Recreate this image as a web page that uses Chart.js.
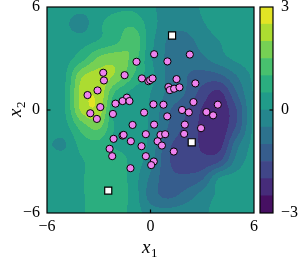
<!DOCTYPE html>
<html>
<head>
<meta charset="utf-8">
<script src="https://cdn.jsdelivr.net/npm/chart.js@4.4.0/dist/chart.umd.min.js"></script>
<style>
  html, body { margin: 0; padding: 0; background: #fff; }
  #wrap { position: relative; width: 304px; height: 259px; }
  #wrap canvas { position: absolute; left: 0; top: 0; }
</style>
</head>
<body>
<div id="wrap">
  <canvas id="chart-main" width="304" height="259"></canvas>
  <canvas id="chart-bar" width="304" height="259"></canvas>
</div>
<script>
// data

var xTicks = [-6, 0, 6];
var yTicks = [-6, 0, 6];
var barTicks = [-3, 0, 3];

// contour levels and the viridis colour of each band
var levels = [-3, -2.5, -2, -1.5, -1, -0.5, 0, 0.5, 1, 1.5, 2, 2.5, 3];
var bandColors = ["#461062", "#462c7a", "#404688", "#365d8d", "#2d728e", "#25868d",
                  "#219b89", "#2bae7f", "#48c06e", "#76d054", "#acdc31", "#e2e425"];

// field, one row per grid y (top to bottom)
var gridX = [-6, -5, -4, -3, -2, -1, 0, 1, 2, 3, 4, 5, 6];
var gridY = [6, 5, 4, 3, 2, 1, 0, -1, -2, -3, -4, -5, -6];
var fieldZ = [
  [0.25, 0.25, 0.15, 0.3, 0.4, 0.4, 0.1, -0.2, -0.2, 0.05, 0.25, 0.25, 0.25],
  [0.25, 0.1, -0.2, 0.4, 0.75, 0.9, 0.25, -0.3, -0.35, -0.05, 0.2, 0.25, 0.25],
  [0.25, 0.25, 0.3, 0.55, 0.9, 1.4, 0.2, -0.55, -0.7, -0.3, 0.0, 0.2, 0.25],
  [0.25, 0.3, 0.8, 1.6, 1.8, 1.3, 0.1, -0.6, -0.85, -0.6, -0.2, 0.1, 0.25],
  [0.25, 0.4, 1.9, 2.2, 1.9, 1.0, 0.2, -0.6, -0.95, -1.2, -1.1, -0.5, 0.1],
  [0.25, 0.45, 2.2, 2.35, 0.9, 0.35, 0.0, -0.6, -1.0, -1.7, -2.1, -1.0, 0.05],
  [0.25, 0.45, 2.1, 2.3, 0.3, 0.3, -0.05, -0.9, -1.4, -2.05, -2.35, -1.5, 0.1],
  [0.25, 0.3, 1.2, 1.6, 0.4, 0.3, -0.1, -1.0, -1.6, -2.1, -2.35, -1.4, 0.1],
  [0.05, -0.05, 0.7, 0.85, 0.4, 0.3, -0.15, -1.35, -1.75, -2.05, -2.2, -0.7, 0.15],
  [0.25, 0.25, 0.45, 0.8, 0.8, 0.3, -0.3, -1.4, -1.8, -1.85, -1.5, -0.3, 0.2],
  [0.25, 0.25, 0.45, 0.8, 0.85, 0.25, -0.6, -1.3, -1.35, -1.05, 0.05, 0.2, 0.25],
  [0.25, 0.25, 0.45, 0.75, 0.8, 0.3, -0.7, -1.1, -0.8, -0.3, 0.1, 0.25, 0.25],
  [0.25, 0.3, 0.45, 0.7, 0.75, 0.3, -0.25, -0.3, -0.2, -0.1, 0.2, 0.25, 0.25]
];

// observed points
var pointsX = [0.21, 2.28, -0.81, 0.98, -2.74, -2.70, -1.50, -0.50, -0.12, -0.02, 0.12, 1.51,
               2.60, 1.04, 1.12, 1.37, 1.68, -3.07, -3.65, -1.37, -1.62, -1.22, -2.03, -2.91,
               2.49, 0.17, 0.75, 3.90, 1.83, 2.22, 3.24, 3.63, -3.49, -3.11, -2.18, -0.37,
               0.97, -1.04, 0.21, 1.99, 2.93, -2.14, -1.62, -1.56, -0.27, 0.58, 0.85, 1.95,
               -1.14, 0.41, 0.66, -0.52, -2.37, 1.35, -2.22, -0.27, 0.19, 0.04, -1.16];
var pointsY = [3.25, 3.23, 2.81, 2.83, 2.17, 1.72, 2.03, 1.84, 1.68, 1.74, 1.84, 1.80,
               1.55, 1.34, 1.16, 1.24, 1.32, 1.14, 0.87, 0.72, 0.52, 0.52, 0.37, 0.17,
               0.46, 0.33, 0.31, 0.31, 0.00, -0.14, -0.12, -0.31, -0.19, -0.52, -0.23, -0.15,
               -0.37, -0.87, -0.85, -0.85, -1.06, -1.68, -1.49, -1.45, -1.41, -1.45, -1.41, -1.39,
               -1.82, -1.82, -2.07, -2.11, -2.26, -2.42, -2.69, -2.69, -3.00, -3.21, -3.39];

// query points (white squares)
var squaresX = [1.25, 2.39, -2.45];
var squaresY = [4.34, -1.88, -4.70];

// end data

var serif = "Liberation Serif";
var tickFont = { family: serif, size: 16 };

function fmt(v) {
  return String(v).replace("-", "\u2212");
}

function clamp(v, a, b) {
  return Math.max(a, Math.min(b, v));
}

function cubic(p0, p1, p2, p3, t) {
  return p1 + 0.5 * t * (p2 - p0 + t * (2 * p0 - 5 * p1 + 4 * p2 - p3 + t * (3 * (p1 - p2) + p3 - p0)));
}

function fieldAt(x, y) {
  var n = gridX.length, m = gridY.length;
  var fx = (x - gridX[0]) / (gridX[1] - gridX[0]);
  var fy = (y - gridY[0]) / (gridY[1] - gridY[0]);
  var i = clamp(Math.floor(fx), 0, n - 2);
  var j = clamp(Math.floor(fy), 0, m - 2);
  var tx = fx - i, ty = fy - j;
  function get(r, c) {
    return fieldZ[clamp(r, 0, m - 1)][clamp(c, 0, n - 1)];
  }
  var rows = [];
  for (var k = -1; k <= 2; k++) {
    rows.push(cubic(get(j + k, i - 1), get(j + k, i), get(j + k, i + 1), get(j + k, i + 2), tx));
  }
  return cubic(rows[0], rows[1], rows[2], rows[3], ty);
}

function hexToRgb(h) {
  return [parseInt(h.substr(1, 2), 16), parseInt(h.substr(3, 2), 16), parseInt(h.substr(5, 2), 16)];
}

var bandRgb = bandColors.map(hexToRgb);

function bandOf(v) {
  for (var k = 0; k < levels.length - 2; k++) {
    if (v < levels[k + 1]) return k;
  }
  return levels.length - 2;
}

// filled contours under the points
var contourPlugin = {
  id: "contour",
  beforeDatasetsDraw: function (chart) {
    var a = chart.chartArea, sx = chart.scales.x, sy = chart.scales.y;
    var w = Math.round(a.right - a.left), h = Math.round(a.bottom - a.top);
    var off = document.createElement("canvas");
    off.width = w; off.height = h;
    var octx = off.getContext("2d");
    var img = octx.createImageData(w, h);
    for (var py = 0; py < h; py++) {
      var yv = sy.getValueForPixel(a.top + py + 0.5);
      for (var px = 0; px < w; px++) {
        var xv = sx.getValueForPixel(a.left + px + 0.5);
        var c = bandRgb[bandOf(fieldAt(xv, yv))];
        var o = (py * w + px) * 4;
        img.data[o] = c[0]; img.data[o + 1] = c[1]; img.data[o + 2] = c[2]; img.data[o + 3] = 255;
      }
    }
    octx.putImageData(img, 0, 0);
    chart.ctx.drawImage(off, a.left, a.top);
  }
};

// frame, inner ticks and axis titles
var framePlugin = {
  id: "frame",
  afterDraw: function (chart) {
    var c = chart.ctx, a = chart.chartArea;
    c.save();
    c.strokeStyle = "#000";
    c.lineWidth = 1.2;
    c.strokeRect(a.left, a.top, a.right - a.left, a.bottom - a.top);
    var x0 = chart.scales.x.getPixelForValue(0);
    var y0 = chart.scales.y.getPixelForValue(0);
    c.beginPath();
    c.moveTo(x0, a.bottom); c.lineTo(x0, a.bottom - 3.5);
    c.moveTo(a.left, y0); c.lineTo(a.left + 3.5, y0);
    c.stroke();

    c.fillStyle = "#000";
    c.textBaseline = "alphabetic";
    // x1
    c.font = "italic 19px " + serif;
    c.textAlign = "left";
    c.fillText("x", 142, 253);
    c.font = "13px " + serif;
    c.fillText("1", 151, 257);
    // x2
    c.translate(21, 111);
    c.rotate(-Math.PI / 2);
    c.font = "italic 19px " + serif;
    c.fillText("x", -6, 0);
    c.font = "13px " + serif;
    c.fillText("2", 3, 4);
    c.restore();
  }
};

var ctx = document.getElementById("chart-main").getContext("2d");

new Chart(ctx, {
  type: "scatter",
  data: {
    datasets: [
      {
        label: "points",
        data: pointsX.map(function (x, i) { return { x: x, y: pointsY[i] }; }),
        backgroundColor: "violet",
        borderColor: "#000",
        borderWidth: 1,
        pointRadius: 3.6,
      },
      {
        label: "queries",
        data: squaresX.map(function (x, i) { return { x: x, y: squaresY[i] }; }),
        pointStyle: "rect",
        backgroundColor: "#fff",
        borderColor: "#000",
        borderWidth: 1.2,
        pointRadius: 5,
      },
    ],
  },
  options: {
    responsive: false,
    animation: false,
    events: [],
    layout: { padding: { left: 0, top: 7, right: 50, bottom: 0 } },
    plugins: {
      legend: { display: false },
      tooltip: { enabled: false },
    },
    scales: {
      x: {
        type: "linear",
        min: -6,
        max: 6,
        afterBuildTicks: function (s) { s.ticks = xTicks.map(function (v) { return { value: v }; }); },
        afterFit: function (s) { s.height = 46; s.paddingLeft = 0; s.paddingRight = 0; },
        grid: { display: false, drawTicks: false },
        border: { display: false },
        ticks: { font: tickFont, color: "#000", padding: 4, maxRotation: 0, autoSkip: false, callback: fmt },
      },
      y: {
        type: "linear",
        min: -6,
        max: 6,
        afterBuildTicks: function (s) { s.ticks = yTicks.map(function (v) { return { value: v }; }); },
        afterFit: function (s) { s.width = 47; s.paddingTop = 0; s.paddingBottom = 0; },
        grid: { display: false, drawTicks: false },
        border: { display: false },
        ticks: { font: tickFont, color: "#000", padding: 7, autoSkip: false, callback: fmt },
      },
    },
  },
  plugins: [contourPlugin, framePlugin],
});

// colour bar

var barFrame = {
  id: "barFrame",
  afterDraw: function (chart) {
    var c = chart.ctx, a = chart.chartArea;
    c.save();
    c.strokeStyle = "#000";
    c.lineWidth = 1.2;
    c.strokeRect(a.left, a.top, a.right - a.left, a.bottom - a.top);
    var y0 = chart.scales.y.getPixelForValue(0);
    c.beginPath();
    c.moveTo(a.right, y0); c.lineTo(a.right - 3.5, y0);
    c.stroke();
    c.restore();
  }
};

var ctx2 = document.getElementById("chart-bar").getContext("2d");

new Chart(ctx2, {
  type: "bar",
  data: {
    labels: [""],
    datasets: bandColors.map(function (col, i) {
      return {
        data: [[levels[i], levels[i + 1]]],
        backgroundColor: col,
        borderWidth: 0,
        barPercentage: 1,
        categoryPercentage: 1,
        grouped: false,
      };
    }),
  },
  options: {
    responsive: false,
    animation: false,
    events: [],
    layout: { padding: { left: 260, top: 7, right: 0, bottom: 46 } },
    plugins: {
      legend: { display: false },
      tooltip: { enabled: false },
    },
    scales: {
      x: { display: false },
      y: {
        position: "right",
        min: -3,
        max: 3,
        afterBuildTicks: function (s) { s.ticks = barTicks.map(function (v) { return { value: v }; }); },
        afterFit: function (s) { s.width = 31; s.paddingTop = 0; s.paddingBottom = 0; },
        grid: { display: false, drawTicks: false },
        border: { display: false },
        ticks: { font: tickFont, color: "#000", padding: 8, autoSkip: false, callback: fmt },
      },
    },
  },
  plugins: [barFrame],
});
</script>
</body>
</html>
